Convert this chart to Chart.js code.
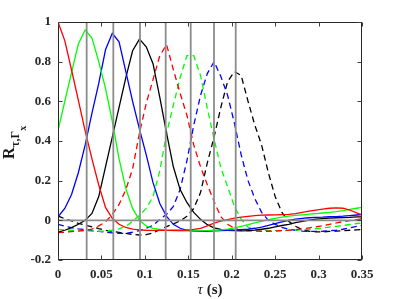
<!DOCTYPE html>
<html><head><meta charset="utf-8">
<script src="https://cdn.jsdelivr.net/npm/chart.js@4"></script>
<style>html,body{margin:0;padding:0;background:#fff}canvas{display:block}</style>
</head><body>
<canvas id="c" width="399" height="299"></canvas>
<script>
const tau = [0, 0.0078, 0.0156, 0.0234, 0.0313, 0.0391, 0.0469, 0.0547, 0.0625, 0.0703,
  0.0781, 0.0859, 0.0938, 0.1016, 0.1094, 0.1172, 0.125, 0.1328, 0.1406, 0.1484,
  0.1563, 0.1641, 0.1719, 0.1797, 0.1875, 0.1953, 0.2031, 0.2109, 0.2188, 0.2266,
  0.2344, 0.2422, 0.25, 0.2578, 0.2656, 0.2734, 0.2813, 0.2891, 0.2969, 0.3047,
  0.3125, 0.3203, 0.3281, 0.3359, 0.3438, 0.3516];

const redSolid = [1.0, 0.906, 0.758, 0.606, 0.45, 0.31, 0.178, 0.065, 0.01, -0.02,
  -0.036, -0.044, -0.048, -0.05, -0.051, -0.051, -0.051, -0.05, -0.05, -0.049,
  -0.046, -0.04, -0.028, -0.014, -0.004, 0.004, 0.011, 0.016, 0.02, 0.024,
  0.026, 0.027, 0.028, 0.029, 0.03, 0.034, 0.04, 0.046, 0.052, 0.057,
  0.061, 0.063, 0.061, 0.052, 0.038, 0.025];
const greenSolid = [0.452, 0.60, 0.745, 0.889, 0.96, 0.919, 0.80, 0.665, 0.50, 0.31,
  0.16, 0.06, 0.0, -0.028, -0.04, -0.046, -0.05, -0.052, -0.053, -0.053,
  -0.053, -0.053, -0.052, -0.05, -0.048, -0.044, -0.038, -0.03, -0.022, -0.013,
  -0.005, 0.003, 0.01, 0.016, 0.021, 0.025, 0.028, 0.031, 0.034, 0.037,
  0.04, 0.044, 0.049, 0.055, 0.061, 0.066];
const blueSolid = [0.018, 0.06, 0.13, 0.24, 0.38, 0.54, 0.69, 0.86, 0.943, 0.90,
  0.75, 0.60, 0.46, 0.33, 0.19, 0.085, 0.02, -0.02, -0.04, -0.05,
  -0.054, -0.055, -0.055, -0.053, -0.052, -0.05, -0.049, -0.047, -0.045, -0.04,
  -0.034, -0.026, -0.017, -0.008, 0.0, 0.006, 0.01, 0.013, 0.015, 0.016,
  0.018, 0.019, 0.021, 0.024, 0.027, 0.03];
const blackSolid = [-0.06, -0.05, -0.037, -0.02, 0.0, 0.035, 0.12, 0.27, 0.42, 0.57,
  0.72, 0.855, 0.914, 0.875, 0.79, 0.62, 0.44, 0.27, 0.155, 0.09,
  0.04, 0.005, -0.022, -0.038, -0.046, -0.05, -0.052, -0.053, -0.052, -0.049,
  -0.045, -0.04, -0.033, -0.026, -0.02, -0.012, -0.005, 0.001, 0.006, 0.009,
  0.011, 0.013, 0.014, 0.015, 0.017, 0.018];
const redDashed = [-0.062, -0.06, -0.057, -0.054, -0.05, -0.044, -0.028, -0.008, 0.03, 0.08,
  0.155, 0.26, 0.44, 0.59, 0.71, 0.83, 0.886, 0.76, 0.64, 0.53,
  0.38, 0.27, 0.18, 0.095, 0.018, -0.02, -0.04, -0.05, -0.053, -0.054,
  -0.055, -0.055, -0.054, -0.052, -0.05, -0.047, -0.043, -0.038, -0.033, -0.027,
  -0.02, -0.013, -0.007, -0.001, 0.004, 0.008];
const greenDashed = [-0.046, -0.048, -0.05, -0.052, -0.053, -0.054, -0.055, -0.054, -0.05, -0.043,
  -0.03, -0.005, 0.025, 0.06, 0.12, 0.25, 0.44, 0.58, 0.72, 0.83,
  0.83, 0.73, 0.565, 0.41, 0.265, 0.17, 0.07, 0.005, -0.035, -0.045,
  -0.05, -0.052, -0.052, -0.052, -0.051, -0.05, -0.048, -0.045, -0.042, -0.038,
  -0.034, -0.03, -0.026, -0.021, -0.016, -0.012];
const blueDashed = [-0.02, -0.03, -0.037, -0.043, -0.047, -0.052, -0.056, -0.06, -0.063, -0.066,
  -0.066, -0.06, -0.052, -0.04, -0.025, 0.005, 0.03, 0.07, 0.156, 0.30,
  0.48, 0.63, 0.74, 0.80, 0.725, 0.63, 0.49, 0.33, 0.20, 0.11,
  0.04, 0.0, -0.02, -0.035, -0.045, -0.05, -0.054, -0.056, -0.056, -0.055,
  -0.053, -0.05, -0.045, -0.038, -0.03, -0.024];
const blackDashed = [0.022, 0.008, -0.003, -0.015, -0.024, -0.033, -0.042, -0.05, -0.056, -0.061,
  -0.066, -0.071, -0.074, -0.072, -0.064, -0.047, -0.032, -0.018, -0.003, 0.02,
  0.06, 0.14, 0.29, 0.42, 0.57, 0.70, 0.75, 0.73, 0.60, 0.48,
  0.38, 0.24, 0.12, 0.04, -0.005, -0.03, -0.047, -0.055, -0.058, -0.058,
  -0.056, -0.054, -0.052, -0.05, -0.048, -0.046];

const markerTaus = [0.033, 0.0637, 0.0944, 0.124, 0.1528, 0.1796, 0.2046];
const xTicks = [0, 0.05, 0.1, 0.15, 0.2, 0.25, 0.3, 0.35];
const yTicks = [-0.2, 0, 0.2, 0.4, 0.6, 0.8, 1];

const series = [
  {data: redSolid, color: '#ff0000', dash: []},
  {data: greenSolid, color: '#00ff00', dash: []},
  {data: blueSolid, color: '#0000ff', dash: []},
  {data: blackSolid, color: '#000000', dash: []},
  {data: redDashed, color: '#ff0000', dash: [6, 4]},
  {data: greenDashed, color: '#00ff00', dash: [6, 4]},
  {data: blueDashed, color: '#0000ff', dash: [6, 4]},
  {data: blackDashed, color: '#000000', dash: [6, 4]}
];

const FONT = '"Liberation Serif", "Times New Roman", serif';

const framePlugin = {
  id: 'frame',
  afterDatasetsDraw(chart) {
    const {ctx, chartArea: a, scales: {x, y}} = chart;
    ctx.save();
    const seg = (x1, y1, x2, y2) => { ctx.beginPath(); ctx.moveTo(x1, y1); ctx.lineTo(x2, y2); ctx.stroke(); };
    ctx.strokeStyle = '#8c8c8c';
    ctx.lineWidth = 1.8;
    markerTaus.forEach(t => { const px = x.getPixelForValue(t); seg(px, a.top, px, a.bottom); });
    const py0 = y.getPixelForValue(0);
    seg(a.left, py0, a.right, py0);
    ctx.strokeStyle = '#262626';
    ctx.lineWidth = 1;
    const L = Math.round(a.left) + 0.5, R = Math.round(a.right) - 0.5;
    const T = Math.round(a.top) + 0.5, B = Math.round(a.bottom) - 0.5;
    ctx.strokeRect(L, T, R - L, B - T);
    ctx.strokeStyle = '#404040';
    const tl = 4;
    xTicks.forEach(v => {
      const px = Math.round(x.getPixelForValue(v)) + 0.5;
      seg(px, B, px, B - tl); seg(px, T, px, T + tl);
    });
    yTicks.forEach(v => {
      const py = Math.round(y.getPixelForValue(v)) + 0.5;
      seg(L, py, L + tl, py); seg(R, py, R - tl, py);
    });
    ctx.restore();
  },
  afterDraw(chart) {
    const {ctx, chartArea: a} = chart;
    ctx.save();
    ctx.fillStyle = '#1a1a1a';
    ctx.textBaseline = 'alphabetic';
    const cx = (a.left + a.right) / 2;
    const t1 = '\u03C4', t2 = ' (s)';
    ctx.font = 'italic 15px ' + FONT;
    const w1 = ctx.measureText(t1).width;
    ctx.font = 'bold 15px ' + FONT;
    const w2 = ctx.measureText(t2).width;
    const sx = cx - (w1 + w2) / 2;
    ctx.font = 'italic 15px ' + FONT;
    ctx.fillText(t1, sx, 294);
    ctx.font = 'bold 15px ' + FONT;
    ctx.fillText(t2, sx + w1, 294);
    // y title
    const cy = (a.top + a.bottom) / 2;
    ctx.translate(14, cy + 18);
    ctx.rotate(-Math.PI / 2);
    ctx.font = 'bold 16px ' + FONT;
    ctx.fillText('R', 0, 0);
    let off = ctx.measureText('R').width + 0.5;
    ctx.font = 'bold 12px ' + FONT;
    ctx.fillText('\u03C4,\u0393', off, 5);
    off += ctx.measureText('\u03C4,\u0393').width;
    ctx.font = 'bold 10px ' + FONT;
    ctx.fillText('x', off, 12);
    ctx.restore();
  }
};

new Chart(document.getElementById('c'), {
  type: 'line',
  data: {
    datasets: series.map(s => ({
      data: tau.map((t, i) => ({x: t, y: s.data[i]})),
      borderColor: s.color,
      borderDash: s.dash,
      borderWidth: 1.3,
      pointRadius: 0,
      tension: 0,
      fill: false
    }))
  },
  options: {
    responsive: false,
    animation: false,
    devicePixelRatio: 1,
    layout: {padding: {left: 0, right: 37, top: 22, bottom: 0}},
    plugins: {legend: {display: false}, tooltip: {enabled: false}},
    scales: {
      x: {
        type: 'linear', min: 0, max: 0.35,
        afterBuildTicks: s => { s.ticks = xTicks.map(v => ({value: v})); },
        afterFit: s => { s.height = 39; },
        ticks: {callback: v => String(v), font: {family: FONT, weight: 'bold', size: 13}, color: '#262626', padding: 7, maxRotation: 0, autoSkip: false},
        grid: {display: false, drawTicks: false},
        border: {display: false}
      },
      y: {
        type: 'linear', min: -0.2, max: 1,
        afterBuildTicks: s => { s.ticks = yTicks.map(v => ({value: v})); },
        afterFit: s => { s.width = 58; },
        ticks: {callback: v => String(v), font: {family: FONT, weight: 'bold', size: 13}, color: '#262626', padding: 7, autoSkip: false},
        grid: {display: false, drawTicks: false},
        border: {display: false}
      }
    }
  },
  plugins: [framePlugin]
});
</script>
</body></html>
